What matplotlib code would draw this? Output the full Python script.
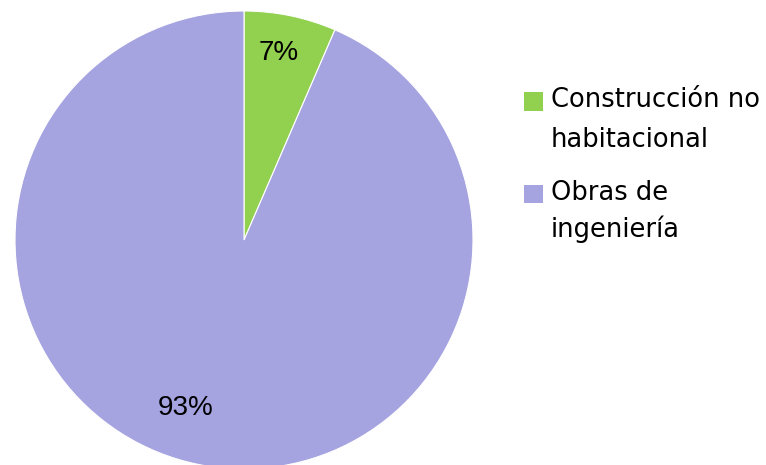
import matplotlib
matplotlib.use("Agg")
import matplotlib.pyplot as plt
from matplotlib.patches import Rectangle

categories = ["Construcción no\nhabitacional", "Obras de\ningeniería"]
values = [6.5, 93.5]
labels_pct = ["7%", "93%"]
colors = ["#92D050", "#A5A3E0"]

W, H = 766, 465
fig = plt.figure(figsize=(W / 100, H / 100), dpi=100)
cx, cy, r = 244, 240, 229
ax = fig.add_axes([(cx - r) / W, (H - cy - r) / H, 2 * r / W, 2 * r / H])
wedges, _ = ax.pie(values, colors=colors, startangle=90, counterclock=False,
                   radius=1.0, wedgeprops=dict(edgecolor="white", linewidth=0.8))
ax.set_xlim(-1, 1)
ax.set_ylim(-1, 1)
ax.axis("off")

label_pos = [(0.153, 0.817), (-0.253, -0.734)]
for (x, y), t in zip(label_pos, labels_pct):
    ax.text(x, y, t, ha="center", va="center", fontsize=20,
            family="Liberation Sans", color="black")

# manual legend (pixel layout)
square_tops = [92, 185]
baselines = [[107, 147], [200, 237]]
for cat, col, top, bls in zip(categories, colors, square_tops, baselines):
    fig.patches.append(Rectangle((524 / W, 1 - (top + 18.5) / H), 18.5 / W, 18.5 / H,
                                 transform=fig.transFigure, facecolor=col,
                                 edgecolor="none"))
    for line, bl in zip(cat.split("\n"), bls):
        fig.text(551 / W, 1 - bl / H, line, ha="left", va="baseline",
                 fontsize=18.5, family="DejaVu Sans", color="black")

fig.savefig("out.png", dpi=100)
